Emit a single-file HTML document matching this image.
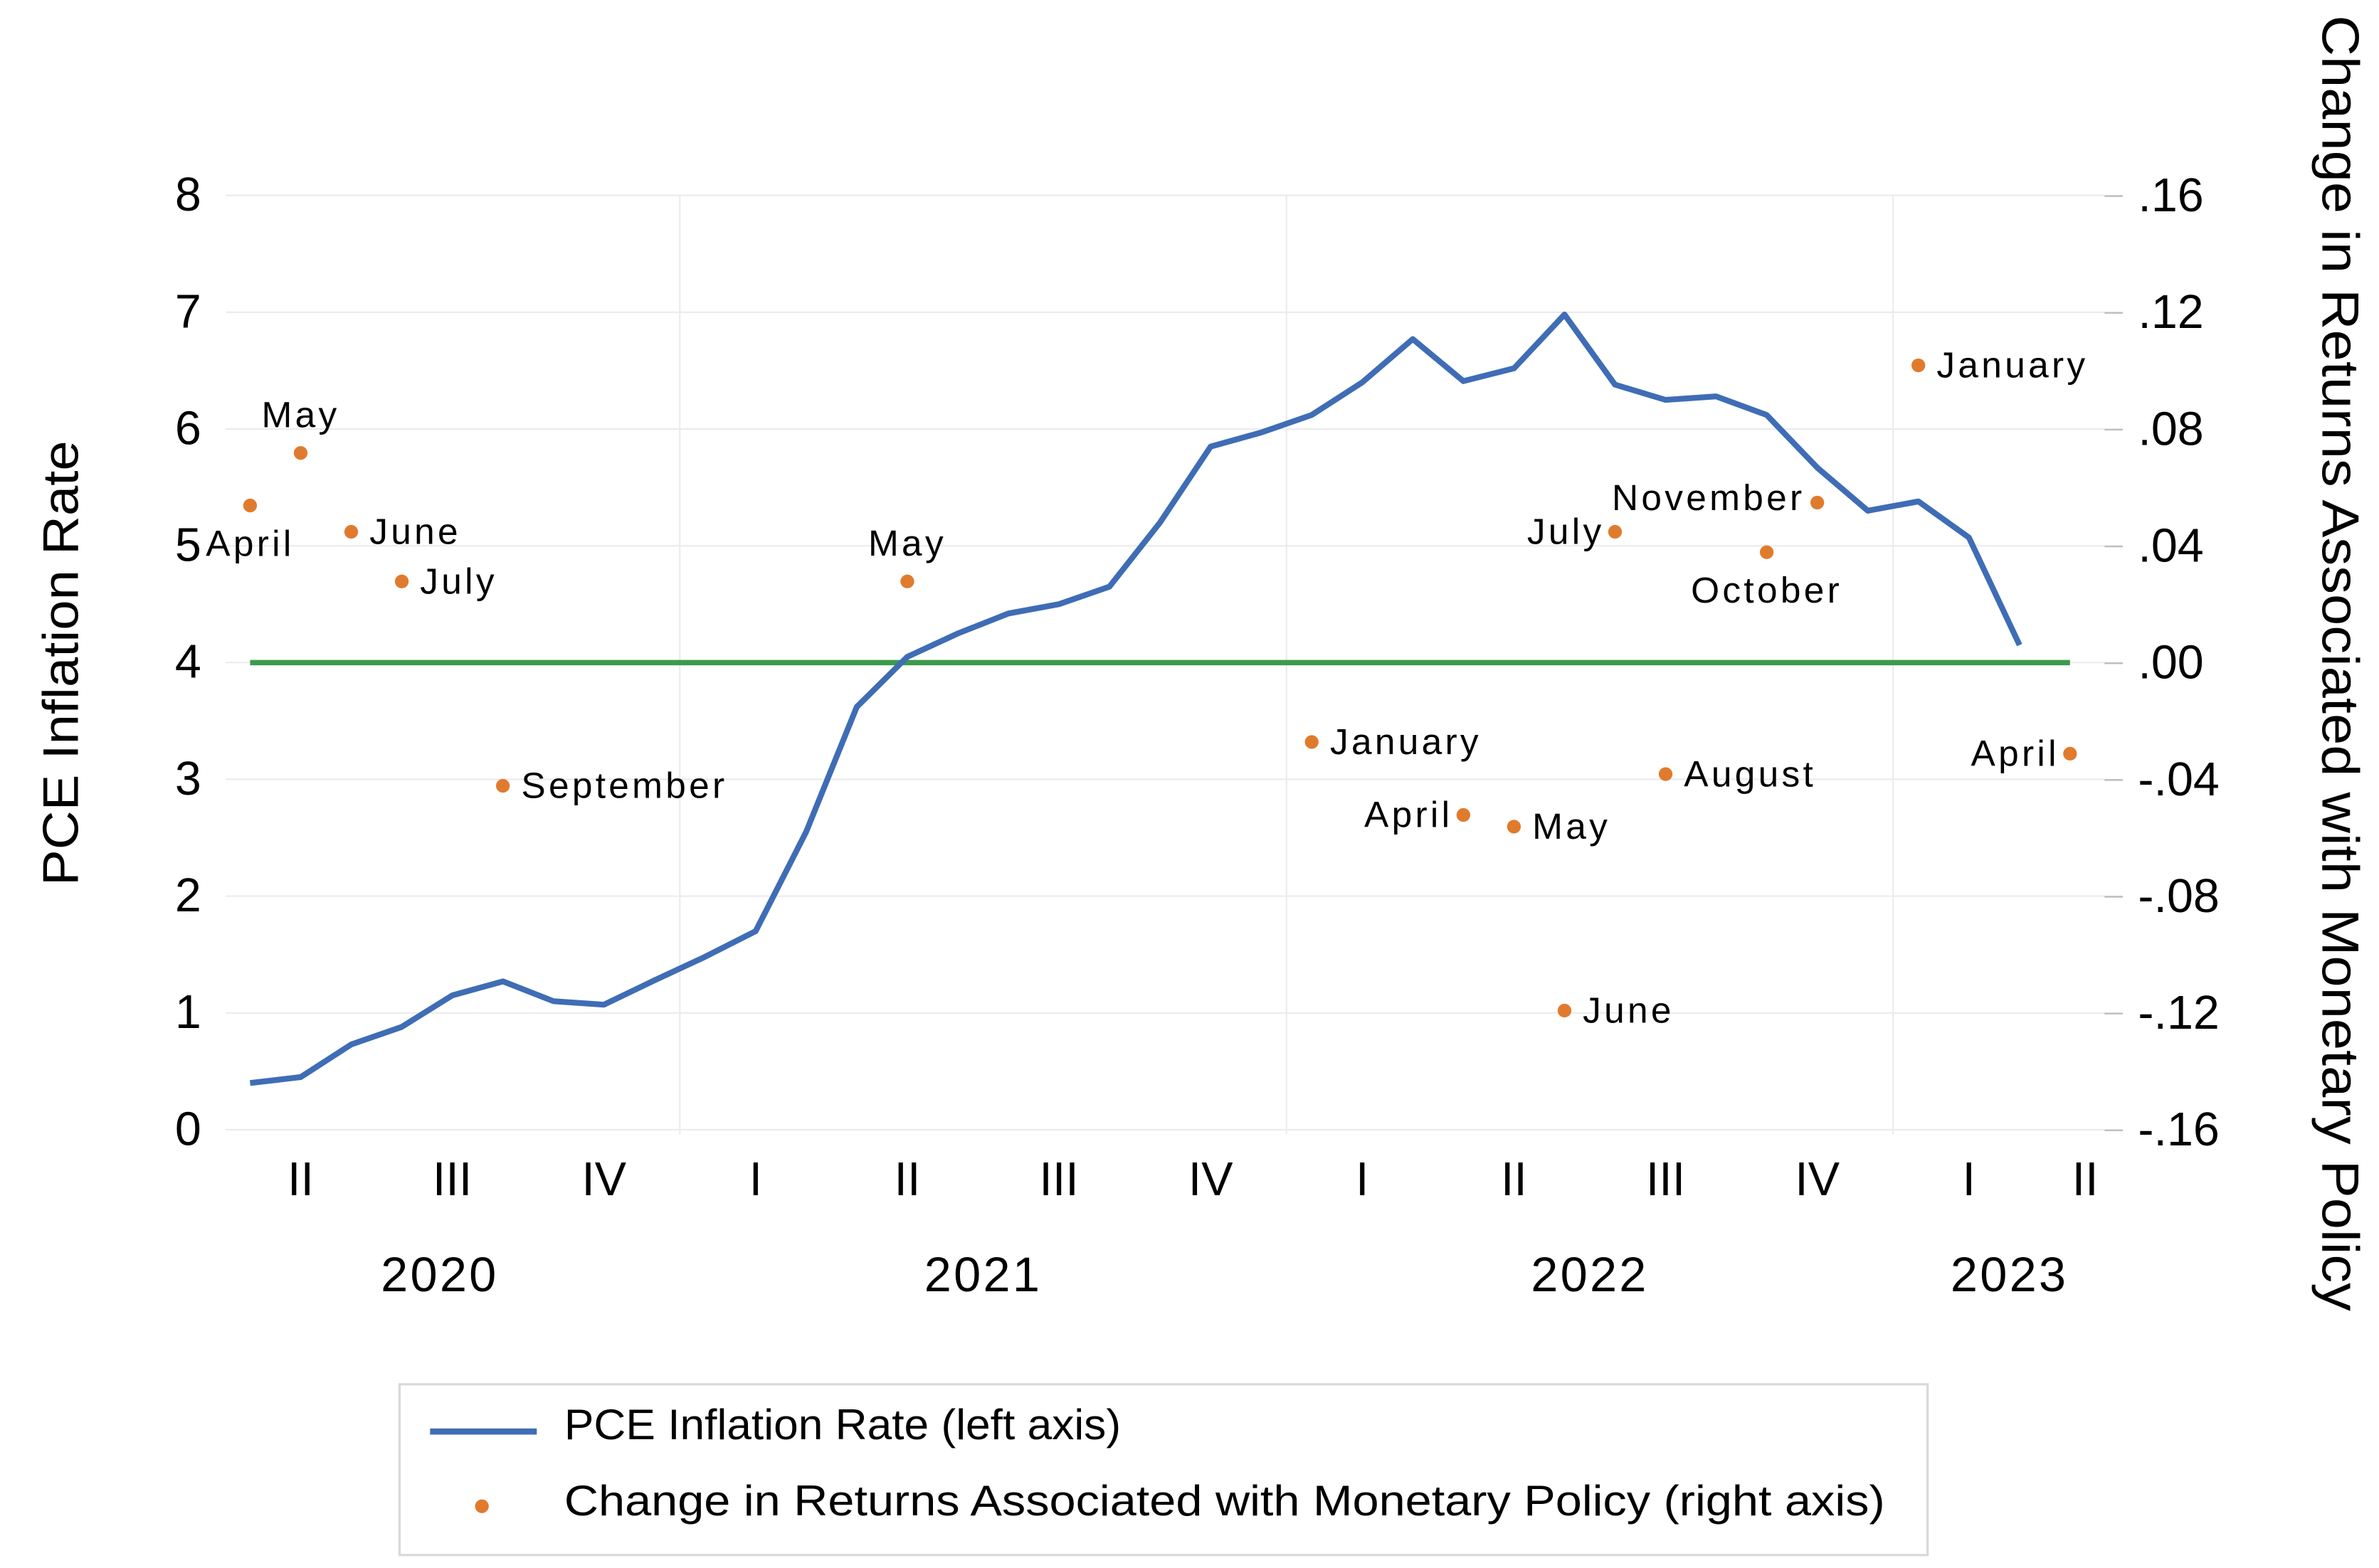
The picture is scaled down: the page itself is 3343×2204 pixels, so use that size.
<!DOCTYPE html>
<html><head><meta charset="utf-8"><style>
html,body{margin:0;padding:0;background:#fff;}
svg{display:block;}
text{font-family:"Liberation Sans",sans-serif;}
</style></head><body>
<svg id="chart" width="3343" height="2204" viewBox="0 0 1560 1028.5" xmlns="http://www.w3.org/2000/svg">
<g id="grid"></g>
<g id="axes"></g>
<g id="series"></g>
<text transform="translate(51,435) rotate(-90)" text-anchor="middle" font-size="33" textLength="292" lengthAdjust="spacingAndGlyphs" fill="#000">PCE Inflation Rate</text>
<text transform="translate(1523,435) rotate(90)" text-anchor="middle" font-size="34" textLength="850" lengthAdjust="spacingAndGlyphs" fill="#000">Change in Returns Associated with Monetary Policy</text>
<g>
<rect x="262" y="908" width="1002" height="112" fill="#fff" stroke="#d9d9d9" stroke-width="1.5"/>
<line x1="282" y1="939" x2="352" y2="939" stroke="#3f6db5" stroke-width="4"/>
<text x="370" y="944" font-size="28" textLength="365" lengthAdjust="spacingAndGlyphs" fill="#000">PCE Inflation Rate (left axis)</text>
<circle cx="316" cy="988" r="4.5" fill="#e07b2e"/>
<text x="370" y="994" font-size="28" textLength="866" lengthAdjust="spacingAndGlyphs" fill="#000">Change in Returns Associated with Monetary Policy (right axis)</text>
</g>
</svg>
<script>
const pceValues = [0.40,0.45,0.73,0.88,1.15,1.27,1.10,1.07,1.28,1.48,1.70,2.55,3.62,4.05,4.25,4.42,4.50,4.65,5.20,5.85,5.97,6.12,6.40,6.77,6.41,6.52,6.98,6.38,6.25,6.28,6.12,5.67,5.30,5.38,5.07,4.15];
const dotMonths = [0,1,2,3,5,13,21,24,25,26,27,28,30,31,33,36];
const dotValues = [0.054,0.072,0.045,0.028,-0.042,0.028,-0.027,-0.052,-0.056,-0.119,0.045,-0.038,0.038,0.055,0.102,-0.031];
const dotLabels = ["April","May","June","July","September","May","January","April","May","June","July","August","October","November","January","April"];
const dotLabelPos = ["below","above","right","right","right","above","right","left","right","right","left","right","below","aboveleft","right","left"];
const leftTicks = [0,1,2,3,4,5,6,7,8];
const rightTicks = [-0.16,-0.12,-0.08,-0.04,0,0.04,0.08,0.12,0.16];
const rightTickLabels = ["-.16","-.12","-.08","-.04",".00",".04",".08",".12",".16"];
const quarterLabels = ["II","III","IV","I","II","III","IV","I","II","III","IV","I","II"];
const quarterMonths = [1,4,7,10,13,16,19,22,25,28,31,34,36.3];
const yearLabels = ["2020","2021","2022","2023"];
const yearMonths = [3.75,14.5,26.5,34.8];
const yearBoundaries = [8.5,20.5,32.5];
const targetLevel = 4;

const NS="http://www.w3.org/2000/svg";
const xM = m => 164 + 33.15*m;
const yL = v => 741 - v*76.6;
const yR = v => 435 - v/0.04*76.6;
function mk(tag, attrs, parent, txt){const e=document.createElementNS(NS,tag);for(const k in attrs)e.setAttribute(k,attrs[k]);if(txt!==undefined)e.textContent=txt;parent.appendChild(e);return e;}
const grid=document.getElementById('grid'), axes=document.getElementById('axes'), series=document.getElementById('series');

leftTicks.forEach(v=>{
  const g=mk('line',{x1:148,x2:1380,y1:yL(v),y2:yL(v),stroke:'#ebebeb','stroke-width':1},grid);
  
  
  const t=mk('text',{x:132,y:yL(v)+10,'text-anchor':'end','font-size':31,fill:'#000'},axes,String(v));
  
  
});
rightTicks.forEach((v,i)=>{
  const l=mk('line',{x1:1380,x2:1392,y1:yR(v),y2:yR(v),stroke:'#bfbfbf','stroke-width':1.2},axes);
  
  
  const t=mk('text',{x:1402,y:yR(v)+10,'font-size':31,fill:'#000'},axes,rightTickLabels[i]);
  
  
});
yearBoundaries.forEach(m=>{
  const l=mk('line',{x1:xM(m),x2:xM(m),y1:128,y2:744,stroke:'#ebebeb','stroke-width':1},grid);
  
  
});
quarterLabels.forEach((q,i)=>{
  const t=mk('text',{x:xM(quarterMonths[i]),y:784,'text-anchor':'middle','font-size':31,fill:'#000'},axes,q);
  
  
});
yearLabels.forEach((y,i)=>{
  const t=mk('text',{x:xM(yearMonths[i]),y:847,'text-anchor':'middle','font-size':32,fill:'#000','letter-spacing':1.5},axes,y);
  
  
});
const tl=mk('line',{x1:xM(0),x2:xM(36),y1:yL(targetLevel),y2:yL(targetLevel),stroke:'#3d9a4a','stroke-width':3.5},series);


const pts=pceValues.map((v,i)=>xM(i).toFixed(1)+','+yL(v).toFixed(1)).join(' ');
const pl=mk('polyline',{points:pts,fill:'none',stroke:'#3f6db5','stroke-width':3.8,'stroke-linejoin':'round'},series);


dotValues.forEach((v,i)=>{
  const cx=xM(dotMonths[i]), cy=yR(v);
  const c=mk('circle',{cx:cx,cy:cy,r:4.5,fill:'#e07b2e'},series);
  
  
  const p=dotLabelPos[i]; let x=cx,y=cy+8,a='start';
  if(p==='right'){x=cx+12;}
  else if(p==='left'){x=cx-7;a='end';}
  else if(p==='below'){y=cy+33;a='middle';}
  else if(p==='above'){y=cy-17;a='middle';}
  else if(p==='aboveleft'){x=cx-8;y=cy+5;a='end';}
  const t=mk('text',{x:x,y:y,'text-anchor':a,'font-size':24,'letter-spacing':2,fill:'#000'},series,dotLabels[i]);
  
  
});
</script>
</body></html>
